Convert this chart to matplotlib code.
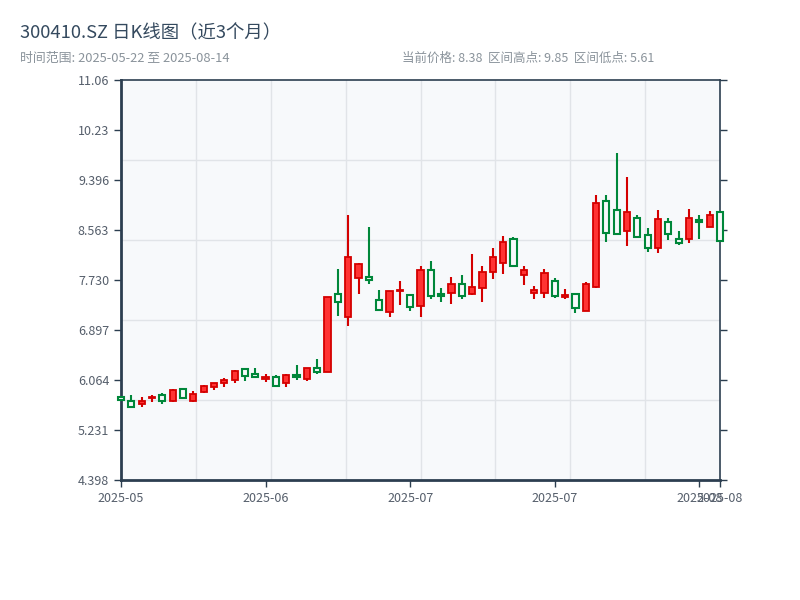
import numpy as np
import pandas as pd
import matplotlib
matplotlib.use('Agg')
import matplotlib.pyplot as plt
from matplotlib.ticker import FixedLocator, FuncFormatter

plt.rcParams['font.family'] = ['Noto Sans CJK SC', 'DejaVu Sans']

# daily candles, 300410.SZ
opens = [5.78, 5.71, 5.67, 5.76, 5.81, 5.71, 5.91, 5.72, 5.86, 5.95,
         6.02, 6.07, 6.25, 6.16, 6.08, 6.11, 6.02, 6.14, 6.08, 6.26,
         6.20, 7.50, 7.12, 7.76, 7.78, 7.39, 7.19, 7.54, 7.48, 7.29,
         7.90, 7.49, 7.51, 7.67, 7.50, 7.60, 7.87, 8.01, 8.41, 7.81,
         7.51, 7.51, 7.72, 7.45, 7.49, 7.22, 7.62, 9.04, 8.89, 8.54,
         8.77, 8.48, 8.26, 8.69, 8.41, 8.41, 8.73, 8.61, 8.86]
highs = [5.80, 5.81, 5.78, 5.81, 5.84, 5.91, 5.92, 5.88, 5.98, 6.02,
         6.10, 6.23, 6.26, 6.26, 6.17, 6.15, 6.16, 6.32, 6.27, 6.41,
         7.44, 7.92, 8.81, 8.01, 8.61, 7.57, 7.55, 7.71, 7.49, 7.97,
         8.04, 7.59, 7.78, 7.81, 8.16, 7.96, 8.26, 8.46, 8.44, 7.96,
         7.63, 7.91, 7.77, 7.58, 7.51, 7.69, 9.14, 9.14, 9.85, 9.44,
         8.81, 8.59, 8.89, 8.76, 8.55, 8.91, 8.81, 8.88, 8.86]
lows = [5.71, 5.61, 5.62, 5.69, 5.67, 5.70, 5.75, 5.70, 5.85, 5.90,
        5.95, 6.02, 6.05, 6.12, 6.03, 5.95, 5.95, 6.07, 6.05, 6.16,
        6.20, 7.13, 6.97, 7.50, 7.66, 7.21, 7.12, 7.32, 7.21, 7.12,
        7.42, 7.36, 7.33, 7.42, 7.48, 7.36, 7.75, 7.83, 7.96, 7.65,
        7.42, 7.43, 7.43, 7.41, 7.18, 7.22, 7.60, 8.37, 8.48, 8.30,
        8.43, 8.20, 8.18, 8.39, 8.31, 8.35, 8.42, 8.61, 8.38]
closes = [5.73, 5.62, 5.72, 5.78, 5.72, 5.90, 5.77, 5.83, 5.96, 6.01,
          6.06, 6.21, 6.13, 6.12, 6.12, 5.97, 6.15, 6.11, 6.26, 6.20,
          7.44, 7.36, 8.12, 7.99, 7.73, 7.23, 7.54, 7.56, 7.28, 7.89,
          7.47, 7.46, 7.67, 7.47, 7.61, 7.86, 8.11, 8.37, 7.96, 7.89,
          7.56, 7.84, 7.46, 7.48, 7.26, 7.66, 9.01, 8.51, 8.50, 8.86,
          8.45, 8.26, 8.74, 8.49, 8.35, 8.77, 8.70, 8.81, 8.38]

dates = pd.bdate_range('2025-05-22', '2025-08-14', freq='C',
                       holidays=['2025-06-02', '2025-06-30'])
tick_idx = [0, 14, 28, 42, 56, 58]

ymin, ymax = 4.398, 11.062

up_fill = '#ff3333'
up_edge = '#d40000'
down_col = '#00873a'
bg = '#f7f9fb'
frame = '#2c3e50'

fig = plt.figure(figsize=(8, 6), dpi=100)
ax = fig.add_axes([0.15125, 0.2, 0.74875, 0.6667])
ax.set_facecolor(bg)

o = np.array(opens); c = np.array(closes)
h = np.array(highs); l = np.array(lows)
x = np.arange(len(o))
up = c >= o

# wicks first, bodies on top so hollow bodies hide the wick
ax.vlines(x[up], l[up], h[up], color=up_edge, lw=1.5, zorder=2, clip_on=False)
ax.vlines(x[~up], l[~up], h[~up], color=down_col, lw=1.5, zorder=2, clip_on=False)

body = np.maximum(np.abs(c - o), 0.015)
ax.bar(x[up], body[up], bottom=np.minimum(o, c)[up], width=0.6,
       color=up_fill, edgecolor=up_edge, linewidth=1.3, zorder=3, clip_on=False)
ax.bar(x[~up], body[~up], bottom=np.minimum(o, c)[~up], width=0.6,
       color=bg, edgecolor=down_col, linewidth=1.5, zorder=3, clip_on=False)

ax.set_xlim(0, len(o) - 1)
ax.set_ylim(ymin, ymax)

# axis ticks
ax.yaxis.set_major_locator(FixedLocator(np.linspace(ymin, ymax, 9)))
ax.yaxis.set_major_formatter(FuncFormatter(lambda v, p: '{:#.4g}'.format(v)))
ax.xaxis.set_major_locator(FixedLocator(tick_idx))
ax.set_xticklabels([dates[i].strftime('%Y-%m') for i in tick_idx])

# background grid
ax.yaxis.set_minor_locator(FixedLocator(np.linspace(ymin, ymax, 6)[1:-1]))
ax.xaxis.set_minor_locator(FixedLocator(np.linspace(0, len(o) - 1, 9)[1:-1]))
ax.grid(which='minor', color='#e1e4e8', lw=1)
ax.grid(which='major', visible=False)
ax.set_axisbelow(True)

ax.tick_params(which='minor', length=0)
ax.tick_params(axis='both', which='major', colors=frame, labelcolor='#555e6b',
               labelsize=9, length=5, width=1)
ax.tick_params(axis='y', right=True)

for side in ['left', 'bottom']:
    ax.spines[side].set_linewidth(2)
for side in ['top', 'right']:
    ax.spines[side].set_linewidth(1.2)
for s in ax.spines.values():
    s.set_color(frame)

fig.text(0.025, 0.945, '300410.SZ 日K线图（近3个月）', fontsize=13.2,
         color='#34495e', va='center')
fig.text(0.025, 0.903, '时间范围: 2025-05-22 至 2025-08-14', fontsize=9.3,
         color='#8a939b', va='center')
fig.text(0.503, 0.903, '当前价格: 8.38  区间高点: 9.85  区间低点: 5.61',
         fontsize=9, color='#8a939b', va='center')

plt.savefig('out.png', dpi=100)
